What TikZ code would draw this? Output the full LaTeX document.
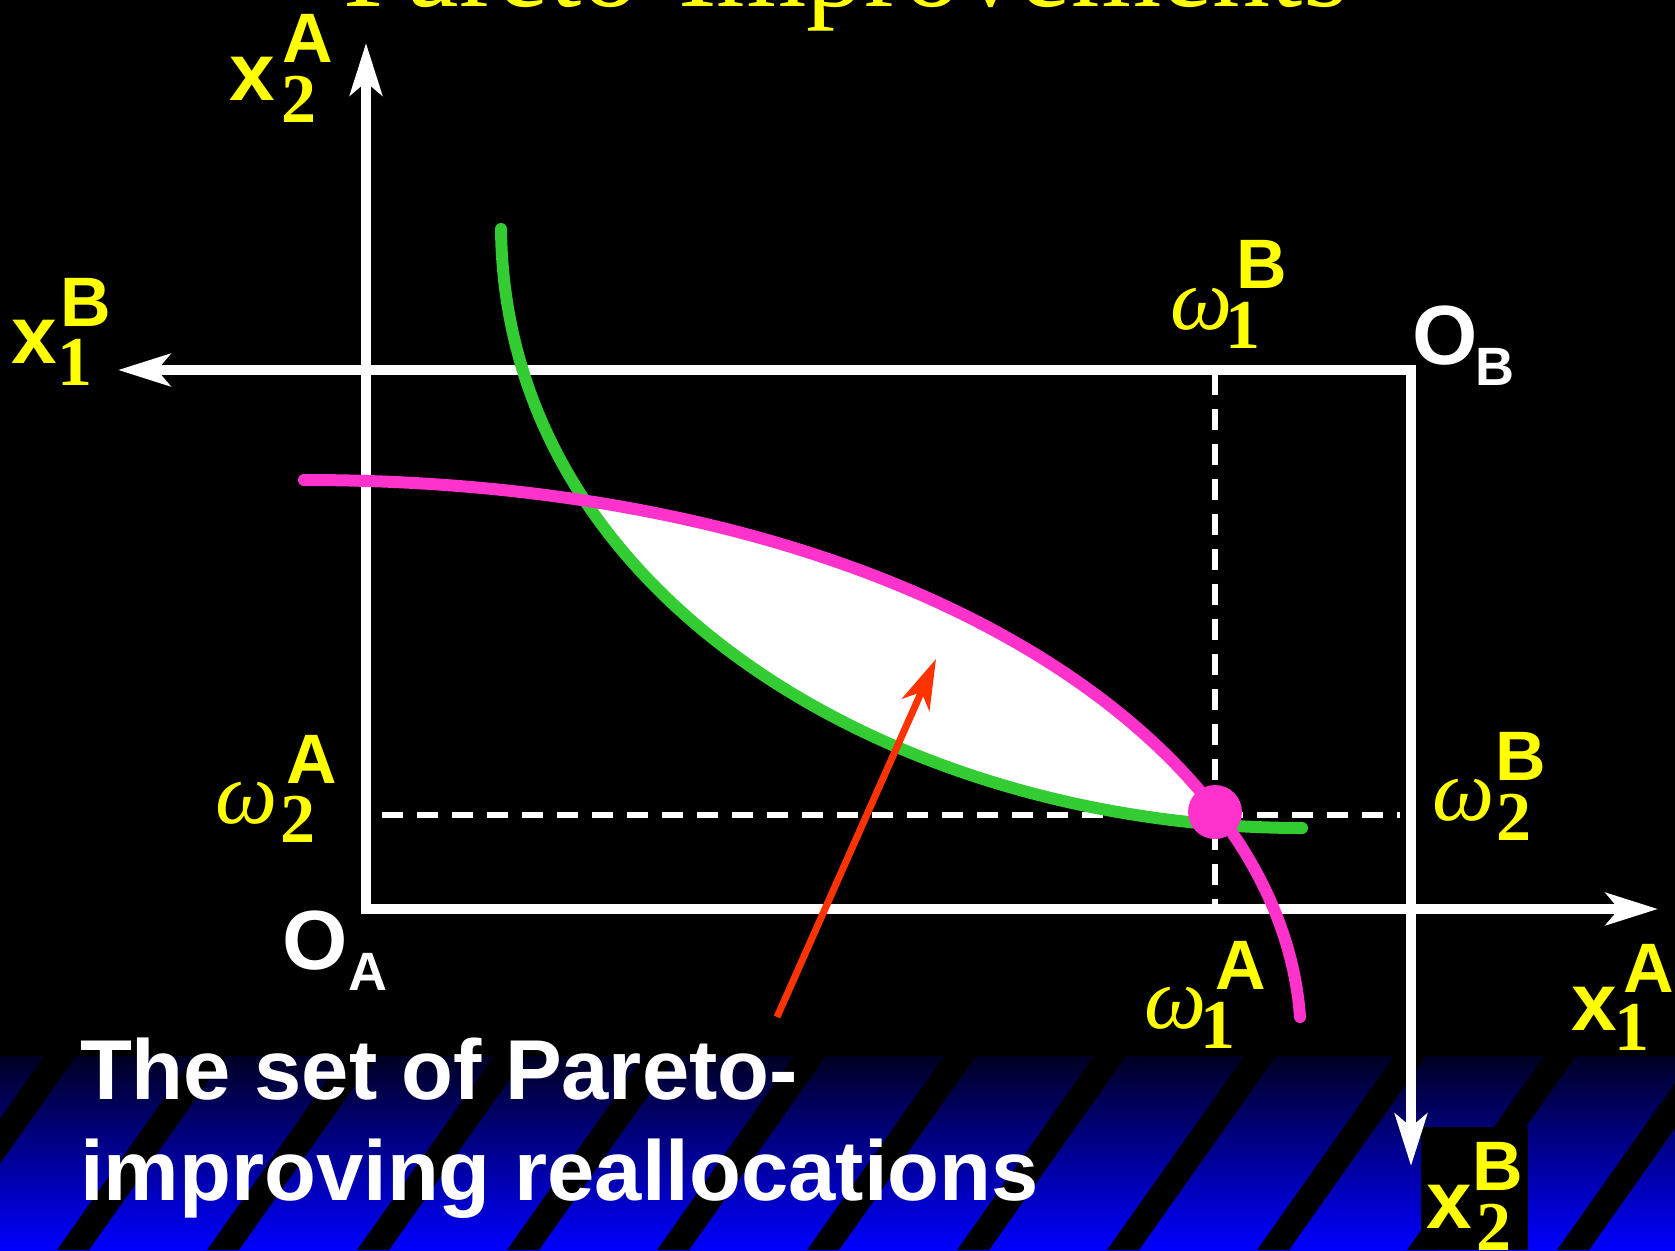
\documentclass[tikz,border=0pt]{standalone}
\usepackage{fontspec}
\setmainfont{Liberation Serif}
\setsansfont{Liberation Sans}
\usetikzlibrary{arrows.meta}
\definecolor{yl}{HTML}{FFFF00}
\definecolor{pk}{HTML}{FF33CC}
\definecolor{gr}{HTML}{33CC33}
\definecolor{rd}{HTML}{FF3300}
\definecolor{bandtop}{HTML}{000024}
\definecolor{bandbot}{HTML}{0000FF}
\newcommand\fsz[1]{\fontsize{#1}{#1}\selectfont}
\begin{document}
\begin{tikzpicture}[x=1pt,y=-1pt,
  every node/.style={inner sep=0pt, outer sep=0pt, anchor=base west},
  axisline/.style={white, line width=10pt, line join=miter,
     {Stealth[length=52pt,width=32pt,inset=13pt]}-{Stealth[length=52pt,width=32pt,inset=13pt]}},
  dashline/.style={white, line width=6pt, dash pattern=on 21pt off 14pt},
  icurve/.style={line width=12pt, line cap=round},
  mainx/.style={font=\sffamily\bfseries\fsz{82}, text=yl},
  supl/.style={font=\sffamily\bfseries\fsz{70}, text=yl},
  subd/.style={font=\rmfamily\bfseries\fsz{70}, text=yl},
  omg/.style={font=\rmfamily\itshape\fsz{88}, text=yl},
  orig/.style={font=\sffamily\bfseries\fsz{84}, text=white},
  origsub/.style={font=\sffamily\bfseries\fsz{54}, text=white},
  captxt/.style={font=\sffamily\bfseries\fsz{85}, text=white}
]
\useasboundingbox (0,0) rectangle (1675,1250);
\fill[black] (0,0) rectangle (1675,1250);
% bottom band
\shade[top color=bandtop, bottom color=bandbot] (0,1056) rectangle (1675,1250);
\foreach \k in {-1,...,11} {
  \fill[black] ({57+150*\k},1250) -- ++(32,0) -- ++(137,-194) -- ++(-32,0) -- cycle;
}
\fill[black] (1421,1127) rectangle (1528,1250);
% title
\node[font=\rmfamily\fsz{116}, text=yl] (title) at (343,6) {Pareto-Improvements};
% coordinates
\coordinate (OA) at (366,909);
\coordinate (A2tip) at (366,43);
\coordinate (A1tip) at (1658,909);
\coordinate (OB) at (1411,370);
\coordinate (B1tip) at (118,370);
\coordinate (B2tip) at (1411,1166);
\coordinate (E) at (1215,812);
\coordinate (dvtop) at (1215,374);
\coordinate (dvbot) at (1215,905);
\coordinate (dhl) at (382,815);
\coordinate (dhr) at (1400,815);
\coordinate (P0) at (304,480);
\coordinate (P3) at (1300,1017);
\coordinate (G0) at (501,229);
\coordinate (G3) at (1302,828);
\coordinate (rs) at (777,1017);
\coordinate (rt) at (936,659);
% axes
\draw[axisline] (A2tip) -- (OA) -- (A1tip);
\draw[axisline] (B1tip) -- (OB) -- (B2tip);
% dashed
\draw[dashline] (dvtop) -- (dvbot);
\draw[dashline] (dhl) -- (dhr);
% lens
\begin{scope}
\clip (P0) .. controls (904,480) and (1280,740) .. (P3) -- (1300,1100) -- (0,1100) -- (0,480) -- cycle;
\fill[white] (G0) .. controls (505,600) and (900,828) .. (G3) -- (1600,828) -- (1600,0) -- (501,0) -- cycle;
\end{scope}
% indifference curves
\draw[icurve, gr] (G0) .. controls (505,600) and (900,828) .. (G3);
\draw[icurve, pk] (P0) .. controls (904,480) and (1280,740) .. (P3);
\fill[pk] (E) circle[radius=27pt];
% red arrow
\draw[rd, line width=7pt, -{Stealth[length=50pt,width=30pt,inset=14pt]}] (rs) -- (rt);
% labels
\node[mainx] (x2A) at (229,100) {x};
\node[supl] (x2Asup) at (282,62) {A};
\node[subd] (x2Asub) at (281,122) {2};
\node[mainx] (x1B) at (12,363) {x};
\node[supl] (x1Bsup) at (60,326) {B};
\node[subd] (x1Bsub) at (57,385) {1};
\node[mainx] (x1A) at (1571,1030) {x};
\node[supl] (x1Asup) at (1623,992) {A};
\node[subd] (x1Asub) at (1614,1050) {1};
\node[mainx] (x2B) at (1426,1228) {x};
\node[supl] (x2Bsup) at (1472,1190) {B};
\node[subd] (x2Bsub) at (1476,1250) {2};
\node[omg] (w2A) at (215,823) {ω};
\node[supl] (w2Asup) at (286,783) {A};
\node[subd] (w2Asub) at (280,842) {2};
\node[omg] (w2B) at (1432,820) {ω};
\node[supl] (w2Bsup) at (1495,780) {B};
\node[subd] (w2Bsub) at (1496,840) {2};
\node[omg] (w1B) at (1170,329) {ω};
\node[supl] (w1Bsup) at (1236,288) {B};
\node[subd] (w1Bsub) at (1225,348) {1};
\node[omg] (w1A) at (1144,1028) {ω};
\node[supl] (w1Asup) at (1215,989) {A};
\node[subd] (w1Asub) at (1200,1048) {1};
\node[orig] (OAlab) at (282,969) {O};
\node[origsub] (OAsub) at (348,990) {A};
\node[orig] (OBlab) at (1412,364) {O};
\node[origsub] (OBsub) at (1475,385) {B};
% caption
\node[captxt] (cap1) at (80,1099) {The set of Pareto-};
\node[captxt] (cap2) at (80,1200) {improving reallocations};
\end{tikzpicture}
\end{document}
